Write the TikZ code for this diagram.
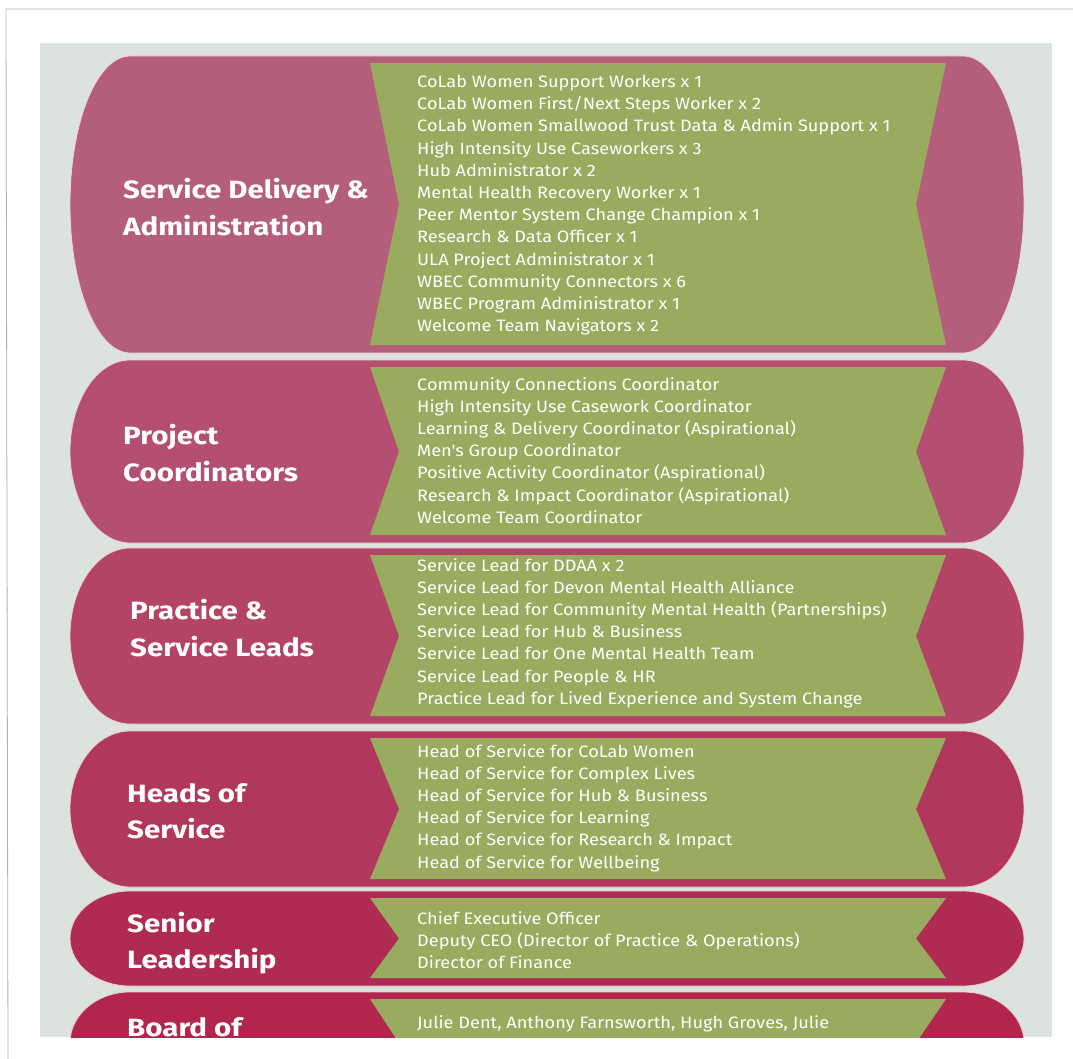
\documentclass[tikz,border=0pt]{standalone}
\usepackage{fontspec}
\setmainfont{Fira Sans}
\newfontfamily\titlefont[FakeStretch=1.18]{Fira Sans}
\newfontfamily\rolefont[FakeStretch=1.1]{Fira Sans}
\definecolor{pagegrey}{HTML}{DCE2DE}
\definecolor{ribbon}{HTML}{99AB5E}
\definecolor{bandA}{HTML}{B45E7C}
\definecolor{bandB}{HTML}{B44F72}
\definecolor{bandC}{HTML}{B44466}
\definecolor{bandD}{HTML}{B2375C}
\definecolor{bandE}{HTML}{B02B53}
\definecolor{bandF}{HTML}{B2264E}
\begin{document}
\begin{tikzpicture}[x=1pt,y=-1pt,
	title/.style={anchor=west,text=white,font=\titlefont\fontsize{25}{36.5}\selectfont\bfseries,align=left,inner sep=0pt},
	roles/.style={anchor=north west,text=white,font=\rolefont\fontsize{16.5}{22.2}\selectfont,align=left,inner sep=0pt}]
	\useasboundingbox[fill=white] (0,0) rectangle (1073,1059);
	\draw[gray!60,line width=0.8pt] (1073,9)--(6,9)--(8,1059);
	\fill[pagegrey] (40,43) rectangle (1052,1037);
	\begin{scope}
	\clip (40,43) rectangle (1052,1037);
	% bands: top/bottom/colour
	\foreach \t/\b/\c in {56/353/bandA,360/543/bandB,548/724/bandC,731/887/bandD,891/986/bandE,992/1094/bandF}{
		\pgfmathsetmacro{\r}{(\b-\t)/2}
		\draw[fill=\c,draw=white!75!\c,line width=0.8pt] (130,\t)--(963,\t)
			arc[start angle=-90,end angle=90,x radius=61,y radius=\r]--(130,\b)
			arc[start angle=90,end angle=270,x radius=60,y radius=\r]--cycle;
		\pgfmathsetmacro{\gt}{\t+7}
		\pgfmathsetmacro{\gb}{\b-8}
		\pgfmathsetmacro{\gm}{(\t+\b)/2}
		\fill[ribbon] (370,\gt)--(946,\gt)--(916,\gm)--(946,\gb)--(370,\gb)--(399,\gm)--cycle;
	}
	\node[title] (svc) at (123,207) {Service Delivery \&\\Administration};
	\node[roles] (svclist) at (417,75) {CoLab Women Support Workers x 1\\
		CoLab Women First/Next Steps Worker x 2\\
		CoLab Women Smallwood Trust Data \& Admin Support x 1\\
		High Intensity Use Caseworkers x 3\\
		Hub Administrator x 2\\
		Mental Health Recovery Worker x 1\\
		Peer Mentor System Change Champion x 1\\
		Research \& Data Officer x 1\\
		ULA Project Administrator x 1\\
		WBEC Community Connectors x 6\\
		WBEC Program Administrator x 1\\
		Welcome Team Navigators x 2};
	\node[title] (coord) at (123,453) {Project\\Coordinators};
	\node[roles] (coordlist) at (417,377) {Community Connections Coordinator\\
		High Intensity Use Casework Coordinator\\
		Learning \& Delivery Coordinator (Aspirational)\\
		Men's Group Coordinator\\
		Positive Activity Coordinator (Aspirational)\\
		Research \& Impact Coordinator (Aspirational)\\
		Welcome Team Coordinator};
	\node[title] (leads) at (130,628) {Practice \&\\Service Leads};
	\node[roles] (leadlist) at (417,558) {Service Lead for DDAA x 2\\
		Service Lead for Devon Mental Health Alliance\\
		Service Lead for Community Mental Health (Partnerships)\\
		Service Lead for Hub \& Business\\
		Service Lead for One Mental Health Team\\
		Service Lead for People \& HR\\
		Practice Lead for Lived Experience and System Change};
	\node[title] (heads) at (127,811) {Heads of\\Service};
	\node[roles] (headlist) at (417,744) {Head of Service for CoLab Women\\
		Head of Service for Complex Lives\\
		Head of Service for Hub \& Business\\
		Head of Service for Learning\\
		Head of Service for Research \& Impact\\
		Head of Service for Wellbeing};
	\node[title] (senior) at (127,943) {Senior\\Leadership};
	\node[roles] (seniorlist) at (417,911) {Chief Executive Officer\\
		Deputy CEO (Director of Practice \& Operations)\\
		Director of Finance};
	\node[title,anchor=base west] (board) at (127,1036) {Board of};
	\node[roles] (boardlist) at (417,1015) {Julie Dent, Anthony Farnsworth, Hugh Groves, Julie};
	\end{scope}
\end{tikzpicture}
\end{document}
